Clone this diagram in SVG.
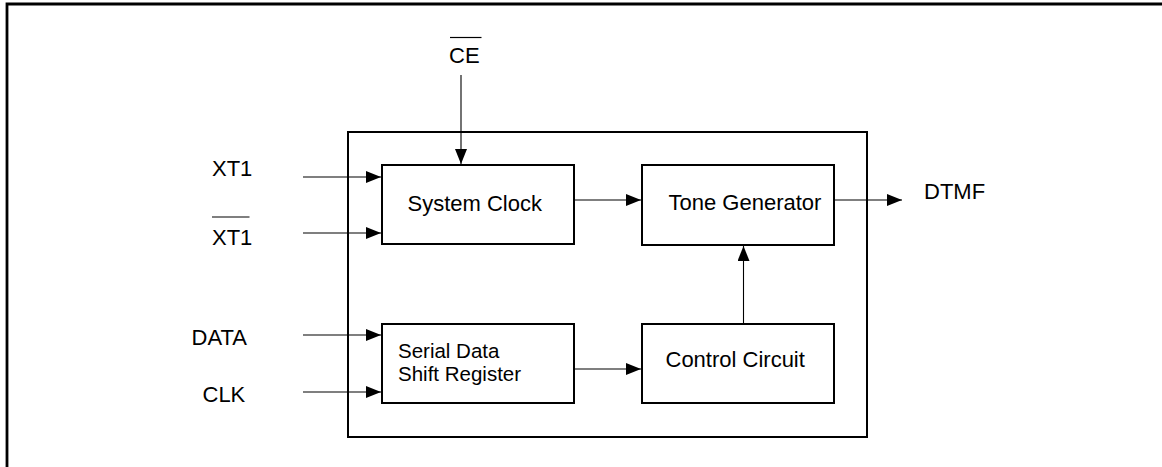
<svg xmlns="http://www.w3.org/2000/svg" width="1162" height="467" viewBox="0 0 1162 467">
<defs>
<marker id="arr" markerUnits="userSpaceOnUse" markerWidth="16" markerHeight="12" refX="15" refY="6" orient="auto">
<path d="M0,0 L15,6 L0,12 z" fill="#000"/>
</marker>
<style>
.box{fill:#fff;stroke:#000;stroke-width:2}
.lbl{font-family:"Liberation Sans",Arial,sans-serif;font-size:22px;fill:#000}
.sm{font-size:20.5px}
.con{stroke:#000;stroke-width:1.1;fill:none;marker-end:url(#arr)}
.ov{stroke:#000;stroke-width:1.2}
</style>
</defs>
<rect width="1162" height="467" fill="#fff"/>
<path d="M7,467 V4 H1162" fill="none" stroke="#000" stroke-width="2.8"/>
<g id="chip"><rect class="box" x="348" y="132" width="519" height="305"/></g>
<g id="system-clock"><rect class="box" x="382" y="165" width="192" height="79"/><text class="lbl" x="407.5" y="211">System Clock</text></g>
<g id="tone-generator"><rect class="box" x="642" y="165" width="192" height="80"/><text class="lbl" x="668.5" y="210">Tone Generator</text></g>
<g id="shift-register"><rect class="box" x="382" y="324" width="192" height="79"/><text class="lbl sm" x="398" y="358">Serial Data</text><text class="lbl sm" x="398" y="381">Shift Register</text></g>
<g id="control-circuit"><rect class="box" x="642" y="324" width="192" height="79"/><text class="lbl" x="665.5" y="367">Control Circuit</text></g>
<g id="ce"><text class="lbl" x="449" y="63">CE</text><line class="ov" x1="450" y1="37.5" x2="481.5" y2="37.5"/></g>
<g id="xt1"><text class="lbl" x="212" y="175.5">XT1</text></g>
<g id="xt1-bar"><text class="lbl" x="212" y="244.5">XT1</text><line class="ov" x1="212" y1="217" x2="249.5" y2="217"/></g>
<g id="data"><text class="lbl" x="191.5" y="345">DATA</text></g>
<g id="clk"><text class="lbl" x="202.5" y="401.5">CLK</text></g>
<g id="dtmf"><text class="lbl" x="924" y="199">DTMF</text></g>
<g id="connectors">
<line class="con" x1="461" y1="75" x2="461" y2="164"/>
<line class="con" x1="303" y1="177" x2="381" y2="177"/>
<line class="con" x1="303" y1="233" x2="381" y2="233"/>
<line class="con" x1="303" y1="335" x2="381" y2="335"/>
<line class="con" x1="303" y1="392" x2="381" y2="392"/>
<line class="con" x1="574" y1="200" x2="641" y2="200"/>
<line class="con" x1="834" y1="200" x2="902" y2="200"/>
<line class="con" x1="574" y1="369" x2="641" y2="369"/>
<line class="con" x1="743.5" y1="324" x2="743.5" y2="246"/>
</g>
</svg>
